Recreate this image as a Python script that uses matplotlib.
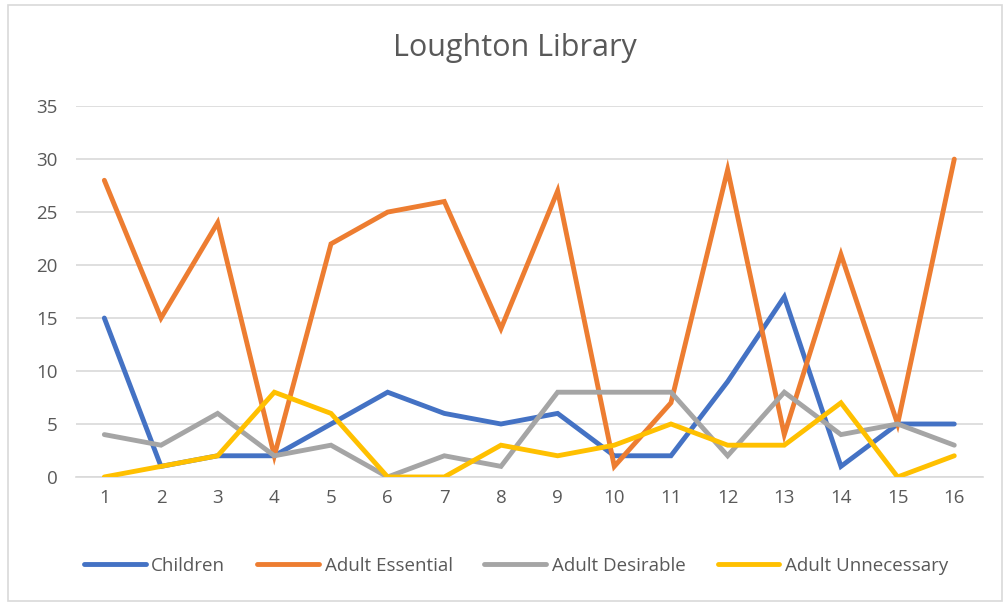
import matplotlib.pyplot as plt
from matplotlib.patches import Rectangle

plt.rcParams['font.family'] = ['Open Sans', 'DejaVu Sans']

weeks = list(range(1, 17))
children = [15, 1, 2, 2, 5, 8, 6, 5, 6, 2, 2, 9, 17, 1, 5, 5]
adult_essential = [28, 15, 24, 2, 22, 25, 26, 14, 27, 1, 7, 29, 4, 21, 5, 30]
adult_desirable = [4, 3, 6, 2, 3, 0, 2, 1, 8, 8, 8, 2, 8, 4, 5, 3]
adult_unnecessary = [0, 1, 2, 8, 6, 0, 0, 3, 2, 3, 5, 3, 3, 7, 0, 2]

series = [
    ("Children", children, "#4472C4"),
    ("Adult Essential", adult_essential, "#ED7D31"),
    ("Adult Desirable", adult_desirable, "#A5A5A5"),
    ("Adult Unnecessary", adult_unnecessary, "#FFC000"),
]

fig = plt.figure(figsize=(10.04, 6.03), dpi=100)
ax = fig.add_axes([0.0757, 0.209, 0.903, 0.615])

# light frame around the chart area
fig.patches.append(Rectangle((0.008, 0.004), 0.99, 0.988, transform=fig.transFigure,
                             fill=False, edgecolor="#D9D9D9", linewidth=1.2))

for name, vals, col in series:
    ax.plot(weeks, vals, color=col, linewidth=3.5, label=name,
            solid_joinstyle="miter", solid_capstyle="round", zorder=3)

ax.set_xlim(0.5, 16.5)
ax.set_ylim(0, 35)
ax.set_xticks(weeks)
ax.set_yticks(range(0, 36, 5))
ax.grid(axis="y", color="#D9D9D9", linewidth=1.2, zorder=0)
for s in ["top", "right", "left"]:
    ax.spines[s].set_visible(False)
ax.spines["bottom"].set_color("#D9D9D9")
ax.spines["bottom"].set_linewidth(1.2)
ax.tick_params(length=0, labelsize=13.5, labelcolor="#595959")
ax.tick_params(axis="x", pad=9)
ax.tick_params(axis="y", pad=13)

fig.text(0.513, 0.92, "Loughton Library", ha="center", va="center",
         fontsize=22, color="#595959")

fig.legend(loc="center", bbox_to_anchor=(0.514, 0.062), ncol=4, frameon=False,
           fontsize=13.5, labelcolor="#595959", handlelength=3.3,
           columnspacing=1.7, handletextpad=0.3)

fig.savefig("out.png", dpi=100)
